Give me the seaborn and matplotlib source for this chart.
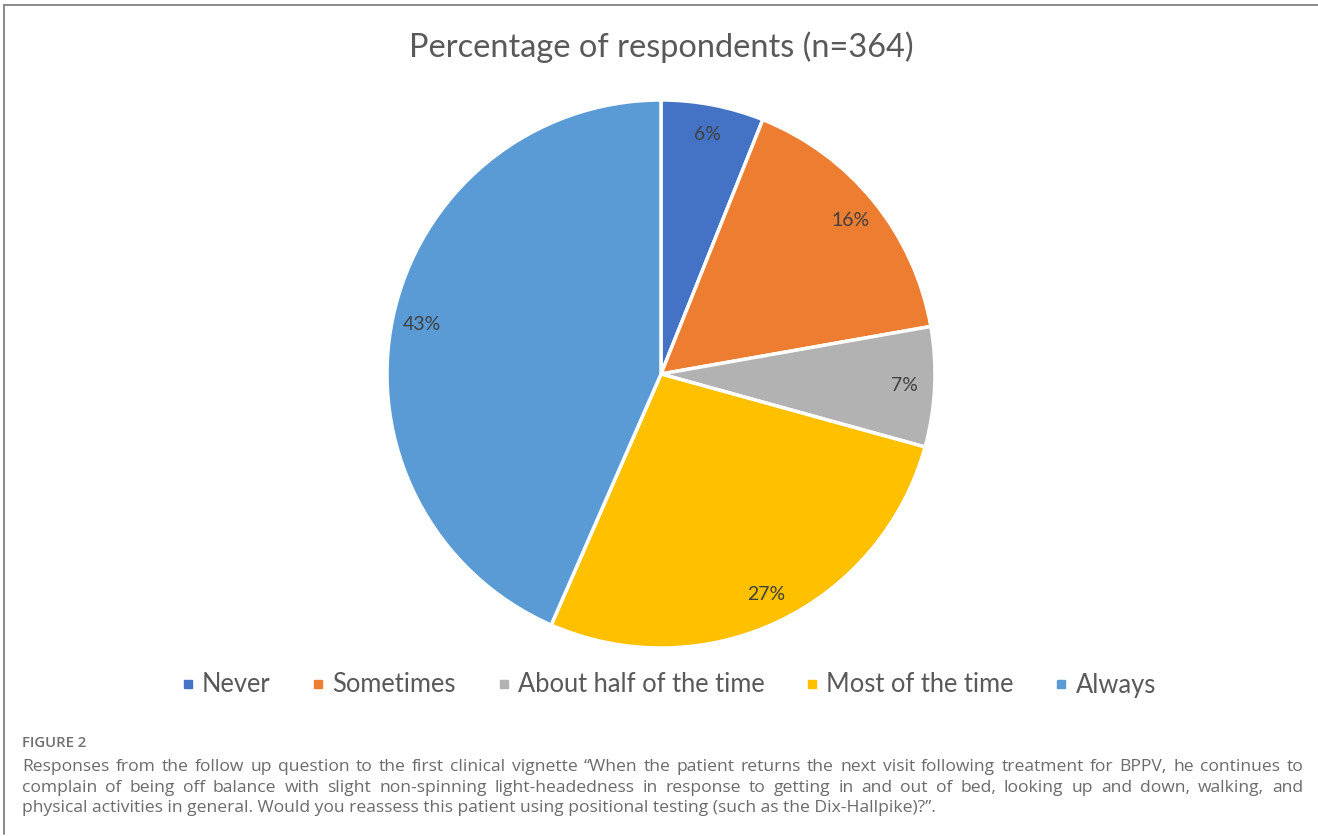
import matplotlib
matplotlib.use("Agg")
import matplotlib.pyplot as plt
from matplotlib.lines import Line2D
import seaborn as sns

# Survey responses (percentage of respondents)
categories = ["Never", "Sometimes", "About half of the time", "Most of the time", "Always"]
percentages = [6, 16, 7, 27, 43]
slice_colors = ["#4472C4", "#ED7D31", "#B2B2B2", "#FFC000", "#5B9BD5"]

title_text = "Percentage of respondents (n=364)"
figure_tag = "FIGURE 2"
caption_lines = [
    "Responses from the follow up question to the first clinical vignette \u201cWhen the patient returns the next visit following treatment for BPPV, he continues to",
    "complain of being off balance with slight non-spinning light-headedness in response to getting in and out of bed, looking up and down, walking, and",
    "physical activities in general. Would you reassess this patient using positional testing (such as the Dix-Hallpike)?\u201d.",
]

sns.set_theme(style="white")
plt.rcParams["font.family"] = ["Lato", "DejaVu Sans"]

W, H = 1318, 836
fig = plt.figure(figsize=(W / 100, H / 100), dpi=100)
fig.patch.set_facecolor("white")

palette = sns.color_palette(slice_colors)

# Pie axes: centre (661, 374) px, radius 274 px
cx, cy, r = 661, 374, 274
ax = fig.add_axes([(cx - r) / W, (H - cy - r) / H, 2 * r / W, 2 * r / H])
wedges, texts, autotexts = ax.pie(
    percentages,
    colors=palette,
    startangle=90,
    counterclock=False,
    radius=1.0,
    autopct=lambda p: f"{p * sum(percentages) / 100:.0f}%",
    pctdistance=0.89,
    wedgeprops=dict(edgecolor="white", linewidth=2.5),
    textprops=dict(color="#404040", fontsize=14),
)
ax.set_xlim(-1, 1)
ax.set_ylim(-1, 1)
ax.set_aspect("equal")
ax.axis("off")

# Chart title
fig.text(cx / W, 1 - 47 / H, title_text, ha="center", va="center",
         fontsize=23.4, color="#595959")

# Legend below the pie
handles = [Line2D([0], [0], marker="s", linestyle="none", markersize=6,
                  markerfacecolor=c, markeredgecolor=c) for c in palette]
fig.legend(handles, categories, loc="center", bbox_to_anchor=(668 / W, 1 - 685 / H),
           ncol=5, frameon=False, fontsize=18.4, labelcolor="#595959",
           handlelength=0.6, handletextpad=0.25, columnspacing=1.57)

# Frame lines of the chart panel
fig.add_artist(Line2D([4 / W, 1.0], [1 - 5 / H, 1 - 5 / H], color="#808080", linewidth=1.3))
fig.add_artist(Line2D([4 / W, 4 / W], [1 - 5 / H, 1 - 834 / H], color="#808080", linewidth=1.3))

# Figure caption
cap_font = ["Open Sans", "DejaVu Sans"]
fig.text(22 / W, 1 - 747 / H, figure_tag, ha="left", va="baseline", fontsize=10.7,
         fontweight="semibold", color="#6f6f6f", family=cap_font)

renderer = fig.canvas.get_renderer()
left_px, right_px = 22, 1303
line_base = [771, 792, 812]
cap_size = 12.6
for i, line in enumerate(caption_lines):
    y = 1 - line_base[i] / H
    if i == len(caption_lines) - 1:
        fig.text(left_px / W, y, line, ha="left", va="baseline", fontsize=cap_size,
                 color="#6b6b6b", family=cap_font)
        continue
    words = line.split(" ")
    arts = [fig.text(0, y, w, ha="left", va="baseline", fontsize=cap_size,
                     color="#6b6b6b", family=cap_font) for w in words]
    widths = [a.get_window_extent(renderer).width for a in arts]
    gap = (right_px - left_px - sum(widths)) / (len(words) - 1)
    x = left_px
    for a, wdt in zip(arts, widths):
        a.set_x(x / W)
        x += wdt + gap

fig.savefig("out.png", dpi=100, facecolor="white")
